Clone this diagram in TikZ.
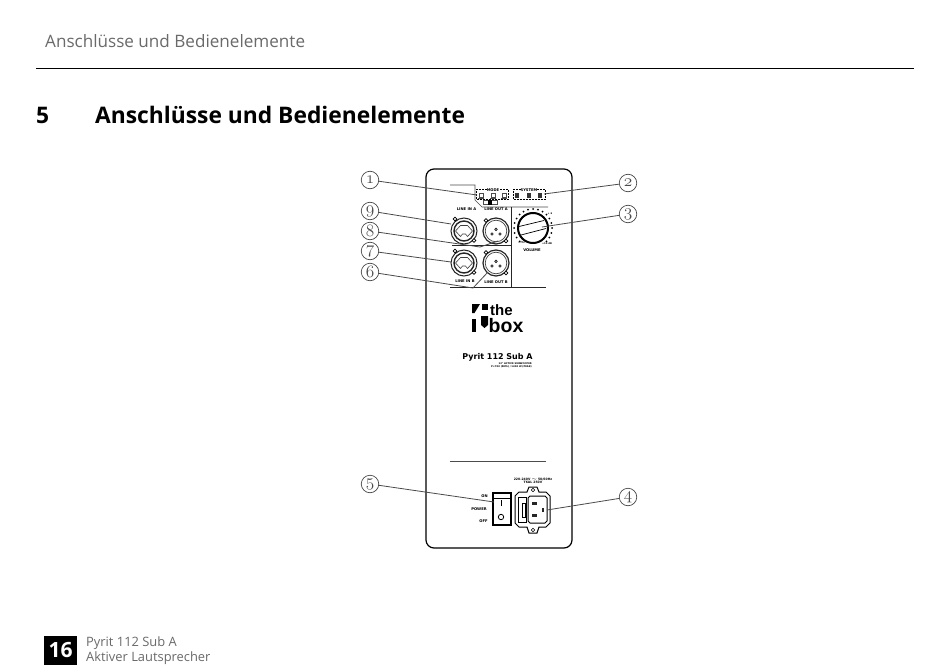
\documentclass[tikz,border=0pt]{standalone}
\usepackage{fontspec}
\setmainfont{Open Sans}
\newfontfamily\devfont{DejaVu Sans}
\newfontfamily\logofont{Liberation Sans}
\usetikzlibrary{calc}
\definecolor{hdrgray}{HTML}{6A6A6A}
\definecolor{callgray}{HTML}{4A4A4A}
\newcommand{\osn}[1]{\fontsize{18}{18}\selectfont$\mathnormal{#1}$}
\tikzset{
  panelline/.style={draw=black!85,line width=1pt},
  thinline/.style={draw=black!70,line width=0.7pt},
  leader/.style={draw=callgray,line width=0.8pt},
  callout/.style={circle,draw=callgray,line width=0.7pt,minimum size=17.5pt,inner sep=0pt,text=callgray},
  devlabel/.style={inner sep=0pt,font=\devfont\bfseries\fontsize{3.7}{3.7}\selectfont},
  tinylabel/.style={inner sep=0pt,font=\devfont\bfseries\fontsize{2.4}{3}\selectfont},
  hdr/.style={inner sep=0pt,anchor=base west,text=hdrgray},
  combo/.pic={
    \draw[line width=1pt,draw=black!85] (0,0) circle (13);
    \draw[line width=1.4pt,draw=black!85] (0,0) circle (10);
    \draw[line width=0.6pt,draw=black!75] (-8.5,0)--(-3.5,-5.5)--(3.5,-5.5)--(8.5,0)--(3.5,5.5)--(1.5,3)--(-1.5,3)--(-3.5,5.5)--cycle;
    \draw[line width=0.7pt,fill=white] (-9,-12) circle (1.9);
    \draw[line width=0.7pt,fill=white] (10,9.5) circle (1.9);
  },
  xlrout/.pic={
    \draw[line width=1.2pt,draw=black!85] (0,0) circle (13);
    \draw[line width=0.7pt,draw=black!75] (0,0) circle (10.8);
    \draw[line width=0.6pt] (-4,3) circle (1.3) (4,3) circle (1.3) (0,-1.7) circle (1.3);
    \draw[line width=0.7pt,fill=white] (-10,-10.5) circle (1.9);
    \draw[line width=0.7pt,fill=white] (10,10) circle (1.9);
  },
  dipsw/.pic={
    \draw[line width=0.5pt,draw=black!70] (-1.8,-2.5) rectangle (1.8,1);
    \draw[line width=0.5pt,draw=black!70] (-2.8,2)--(2.8,2);
  },
}
\begin{document}
\begin{tikzpicture}[x=1pt,y=-1pt]
\useasboundingbox[fill=white] (0,0) rectangle (950,669);
% page furniture
\node[hdr,font=\fontsize{17.1}{18}\selectfont] (hdrtxt) at (45,47.5) {Anschlüsse und Bedienelemente};
\coordinate (ruleL) at (36,68.5); \coordinate (ruleR) at (914,68.5);
\draw[line width=1.3pt] (ruleL) -- (ruleR);
\node[inner sep=0pt,anchor=base west,font=\bfseries\fontsize{22.8}{24}\selectfont] (secnum) at (36,123) {5};
\node[inner sep=0pt,anchor=base west,font=\bfseries\fontsize{22.8}{24}\selectfont] (sectitle) at (95,123) {Anschlüsse und Bedienelemente};
\node[fill=black,minimum width=33pt,minimum height=29pt,inner sep=0pt,text=white,font=\bfseries\fontsize{21}{22}\selectfont] (pagenum) at (60.5,650) {16};
\node[hdr,font=\fontsize{12.9}{14}\selectfont] (ft1) at (86,646.5) {Pyrit 112 Sub A};
\node[hdr,font=\fontsize{12.9}{14}\selectfont] (ft2) at (86,661) {Aktiver Lautsprecher};
% panel
\draw[line width=1.2pt,rounded corners=8pt] (426,169) rectangle (572,548);
\draw[thinline] (450,185) -- (475,185) -- (475,200) -- (482,207) -- (548,207);
\draw[panelline] (511,207) -- (511,287);
\draw[panelline] (452,245) -- (511,245);
\draw[panelline] (450,287) -- (546,287);
\draw[thinline] (450,461.5) -- (546,461.5);
% mode/system
\draw[line width=0.5pt,densely dotted] (476,189) rectangle (508,199);
\draw[line width=0.5pt,densely dotted] (513,189) rectangle (545,199);
\node[fill=white,inner sep=0.5pt,devlabel] (mode) at (493,190) {MODE};
\node[fill=white,inner sep=0.5pt,devlabel] (system) at (529,190) {SYSTEM};
\foreach \x in {481,493,504} \pic at (\x,196) {dipsw};
\foreach \x in {517,529,540} \fill[black!80] (\x-1.8,193) rectangle (\x+1.8,198);
\draw[line width=0.5pt,draw=black!70] (483,200.5) rectangle (497,204);
\fill (488,200) rectangle (492,204.5);
% connectors
\pic at (464,231) {combo};
\pic at (496,231) {xlrout};
\pic at (464,263) {combo};
\pic at (496,263) {xlrout};
\node[devlabel] (linA) at (466.5,209.5) {LINE IN A};
\node[devlabel] (loutA) at (496,209.5) {LINE OUT A};
\node[devlabel] (linB) at (465,281.5) {LINE IN B};
\node[devlabel] (loutB) at (496,282) {LINE OUT B};
% knob
\foreach \a in {-225,-210,...,45} \fill (533,228) ++(\a:19) circle (1);
\draw[line width=2pt] (533,228) circle (15);
\draw[line width=0.7pt] (519,226.5) -- (544,220.5);
\draw[line width=0.7pt] (521,235) -- (546,228.5);
\node[devlabel] (vol) at (532,250) {VOLUME};
\node[tinylabel] (volmin) at (522,242) {-$\infty$};
\node[tinylabel] (volmid) at (550,214) {+ 6};
\node[tinylabel] (volmax) at (547,244) {+10 dB};
% logo
\fill (481.5,304) rectangle (488,310);
\fill (472,304) -- (480,304) -- (474.5,313) -- (472,313) -- cycle;
\fill (472,319) rectangle (476,332);
\fill (481,316) -- (488,316) -- (488,325) -- (484.5,328) -- (481,325) -- cycle;
\node[inner sep=0pt,anchor=base west,font=\logofont\bfseries\fontsize{15}{14}\selectfont] (the) at (490,315) {the};
\node[inner sep=0pt,anchor=base west,font=\logofont\bfseries\fontsize{19.5}{18}\selectfont] (box) at (488.5,332) {box};
\node[inner sep=0pt,font=\devfont\bfseries\fontsize{8}{10}\selectfont] (model) at (497.5,357) {Pyrit 112 Sub A};
\node[tinylabel,anchor=east] (spec1) at (532,364) {12" ACTIVE SUBWOOFER};
\node[tinylabel,anchor=east] (spec2) at (532,367) {P=700 (RMS) / 1400 W (PEAK)};
% power
\draw[line width=1.1pt] (493,493) rectangle (511,525);
\draw[line width=0.6pt] (494,498) -- (510,498);
\draw[line width=0.8pt] (501,500) -- (501,506);
\draw[line width=0.8pt] (501,517) circle (2.7);
\node[devlabel] (on) at (484.5,496) {ON};
\node[devlabel] (power) at (479,509) {POWER};
\node[devlabel] (off) at (483.5,521) {OFF};
% IEC inlet
\draw[line width=1pt] (515,496) -- (519,492) -- (527,492) -- (529,487) -- (537,487) -- (539,492) -- (546,492) -- (550,496) -- (550,523) -- (546,527) -- (539,527) -- (537,533) -- (529,533) -- (527,527) -- (519,527) -- (515,523) -- cycle;
\draw[line width=0.6pt] (518,497) rectangle (526,522);
\draw[line width=0.6pt] (522,503) rectangle (525,517);
\draw[line width=1pt,fill=white] (530,496) -- (545,496) -- (547,498) -- (547,521) -- (545,523) -- (530,523) -- (528,521) -- (528,498) -- cycle;
\fill[black!85] (532,501.5) rectangle (537,505);
\fill[black!85] (532,513.5) rectangle (537,517);
\fill[black!85] (541.5,507.5) rectangle (544,511.5);
\draw[line width=0.6pt] (533,490) circle (1.8);
\draw[line width=0.6pt] (533,530) circle (1.8);
\node[devlabel,font=\devfont\bfseries\fontsize{3.1}{3.3}\selectfont] (vtxt) at (533,479) {220-240V $\sim$ 50/60Hz};
\node[devlabel,font=\devfont\bfseries\fontsize{3.1}{3.3}\selectfont] (ftxt) at (533,482.5) {T6AL 250V};
% callouts
\node[callout] (c1) at (370,180) {\osn{1}};
\node[callout] (c9) at (370,211) {\osn{9}};
\node[callout] (c8) at (370,231) {\osn{8}};
\node[callout] (c7) at (370,251) {\osn{7}};
\node[callout] (c6) at (370,272) {\osn{6}};
\node[callout] (c5) at (370,484) {\osn{5}};
\node[callout] (c2) at (628,183) {\osn{2}};
\node[callout] (c3) at (628,214) {\osn{3}};
\node[callout] (c4) at (628,497) {\osn{4}};
\coordinate (t1) at (477,195);
\coordinate (t2) at (544,194);
\coordinate (t3) at (542,227);
\coordinate (t4) at (547,510);
\coordinate (t5) at (494,502);
\coordinate (t6a) at (473,288); \coordinate (t6) at (488,272);
\coordinate (t7) at (451,262);
\coordinate (t8a) at (480,247); \coordinate (t8) at (498,241);
\coordinate (t9) at (451,224);
\draw[leader] (c1) -- (t1);
\draw[leader] (c2) -- (t2);
\draw[leader] (c3) -- (t3);
\draw[leader] (c4) -- (t4);
\draw[leader] (c5) -- (t5);
\draw[leader] (c6) -- (t6a) -- (t6);
\draw[leader] (c7) -- (t7);
\draw[leader] (c8) -- (t8a) -- (t8);
\draw[leader] (c9) -- (t9);
\end{tikzpicture}
\end{document}
